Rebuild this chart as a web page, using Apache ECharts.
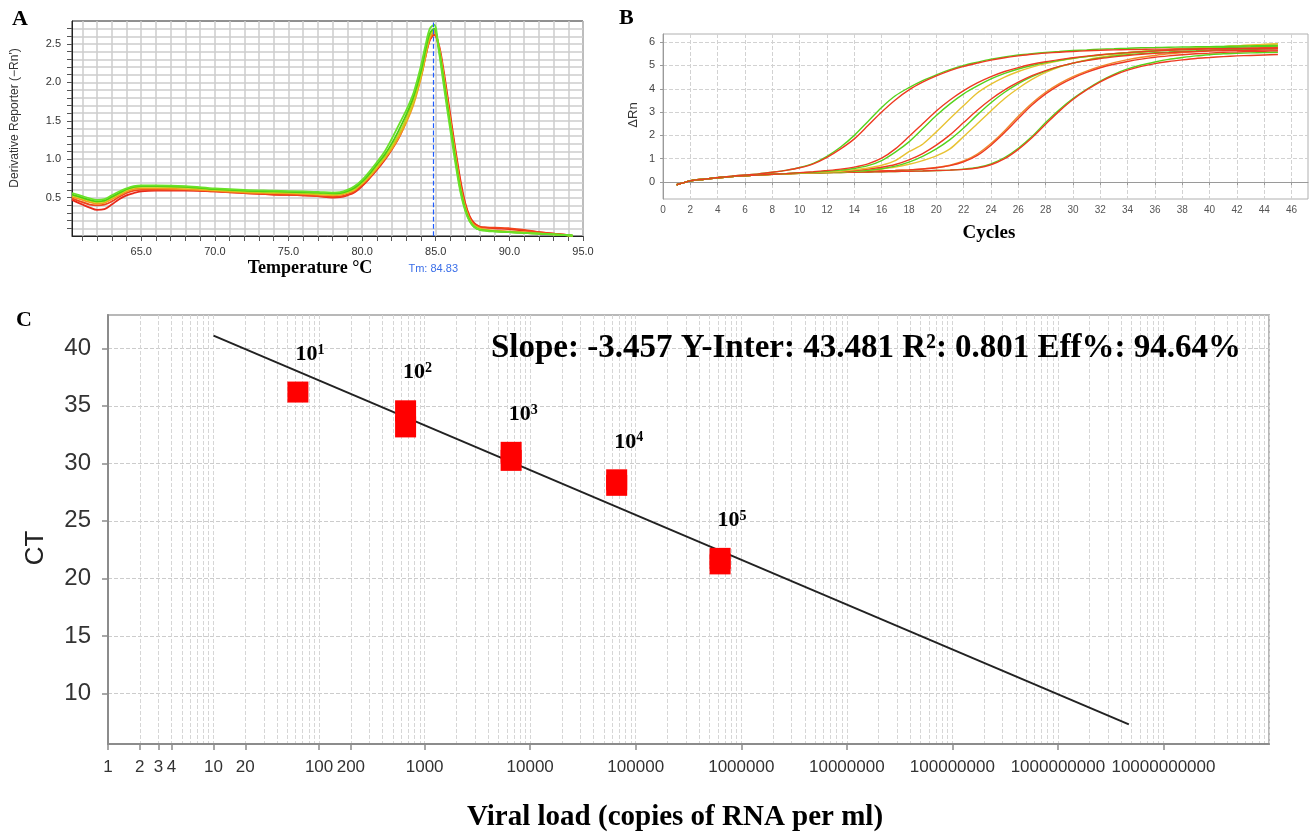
<!DOCTYPE html>
<html><head><meta charset="utf-8">
<script src="https://cdn.jsdelivr.net/npm/echarts@6.0.0/dist/echarts.min.js"></script>
<style>html,body{margin:0;padding:0;background:#fff}#c{width:1309px;height:836px}</style>
</head><body><div id="c"></div>
<script>
// ---------- Panel A: melt curves ----------
const meltTemp = [60.3,61,61.5,62,62.5,63,63.5,64,64.5,65,66,68,70,72,74,76,77,78,78.5,79,79.5,80,80.5,81,81.5,82,82.5,83,83.5,84,84.3,84.6,84.9,85.2,85.5,85.8,86.1,86.4,86.7,87,87.3,87.6,88,88.5,89,90,91,92,93,94,94.3];
const meltGreen1 = [0.56,0.52,0.49,0.47,0.48,0.53,0.58,0.62,0.65,0.66,0.66,0.65,0.62,0.6,0.59,0.58,0.575,0.565,0.57,0.6,0.65,0.73,0.84,0.96,1.09,1.26,1.45,1.64,1.87,2.22,2.48,2.7,2.75,2.42,2.02,1.62,1.24,0.87,0.55,0.33,0.19,0.12,0.08,0.065,0.06,0.05,0.04,0.03,0.02,0.01,0.01];
const meltGreen2 = [0.54,0.5,0.47,0.45,0.46,0.51,0.56,0.61,0.64,0.65,0.65,0.64,0.61,0.59,0.58,0.57,0.565,0.555,0.56,0.585,0.63,0.71,0.81,0.93,1.05,1.2,1.38,1.58,1.82,2.15,2.42,2.64,2.7,2.45,2.08,1.68,1.3,0.92,0.58,0.35,0.2,0.12,0.08,0.07,0.06,0.05,0.04,0.03,0.02,0.01,0.0];
const meltYellow = [0.53,0.49,0.46,0.44,0.45,0.5,0.55,0.6,0.63,0.64,0.64,0.63,0.6,0.58,0.57,0.56,0.55,0.54,0.55,0.57,0.61,0.69,0.79,0.9,1.02,1.16,1.33,1.52,1.76,2.1,2.38,2.62,2.68,2.47,2.12,1.72,1.33,0.95,0.6,0.36,0.21,0.13,0.09,0.075,0.065,0.05,0.04,0.03,0.02,0.01,0.0];
const meltOrange = [0.51,0.47,0.44,0.42,0.43,0.48,0.53,0.58,0.61,0.62,0.62,0.61,0.59,0.57,0.56,0.55,0.54,0.53,0.535,0.56,0.6,0.68,0.77,0.88,1.0,1.13,1.29,1.48,1.72,2.06,2.33,2.58,2.66,2.48,2.14,1.74,1.35,0.97,0.62,0.38,0.22,0.14,0.1,0.08,0.07,0.06,0.05,0.035,0.02,0.01,0.0];
const meltRed1 = [0.49,0.44,0.41,0.4,0.41,0.45,0.51,0.56,0.59,0.6,0.6,0.6,0.58,0.56,0.54,0.53,0.52,0.51,0.515,0.54,0.58,0.66,0.76,0.88,1.0,1.14,1.3,1.52,1.78,2.1,2.35,2.56,2.63,2.47,2.15,1.77,1.39,1.01,0.67,0.41,0.25,0.16,0.12,0.11,0.11,0.1,0.08,0.05,0.03,0.01,0.0];
const meltRed2 = [0.47,0.41,0.37,0.34,0.35,0.41,0.48,0.53,0.56,0.58,0.59,0.59,0.58,0.56,0.54,0.53,0.52,0.5,0.505,0.53,0.57,0.65,0.75,0.86,0.98,1.12,1.28,1.5,1.76,2.08,2.33,2.55,2.62,2.5,2.2,1.82,1.43,1.05,0.7,0.43,0.26,0.17,0.12,0.11,0.1,0.09,0.07,0.05,0.03,0.01,0.0];
const meltTm = 84.83;
const tempTicks = [61,62,63,64,65,66,67,68,69,70,71,72,73,74,75,76,77,78,79,80,81,82,83,84,85,86,87,88,89,90,91,92,93,94,95];
const tempLabels = [65,70,75,80,85,90,95];
const derivTicks = [0.1,0.2,0.3,0.4,0.5,0.6,0.7,0.8,0.9,1.0,1.1,1.2,1.3,1.4,1.5,1.6,1.7,1.8,1.9,2.0,2.1,2.2,2.3,2.4,2.5,2.6,2.7];
const derivLabels = [0.5,1.0,1.5,2.0,2.5];

// ---------- Panel B: amplification curves ----------
const cycles = [1,2,3,4,5,6,7,8,9,10,11,12,13,14,15,16,17,18,19,20,21,22,23,24,25,26,27,28,29,30,31,32,33,34,35,36,37,38,39,40,41,42,43,44,45];
const ampG1green = [-0.12,0.05,0.12,0.19,0.25,0.3,0.35,0.42,0.5,0.62,0.8,1.1,1.5,2.0,2.6,3.2,3.7,4.05,4.35,4.6,4.82,5.0,5.14,5.27,5.37,5.45,5.51,5.56,5.6,5.64,5.67,5.7,5.72,5.74,5.76,5.77,5.78,5.79,5.8,5.81,5.82,5.83,5.84,5.85,5.86];
const ampG1red = [-0.12,0.05,0.12,0.19,0.25,0.3,0.35,0.42,0.5,0.61,0.78,1.06,1.42,1.85,2.42,3.0,3.52,3.95,4.28,4.55,4.78,4.96,5.1,5.23,5.33,5.41,5.48,5.53,5.57,5.6,5.63,5.65,5.67,5.68,5.69,5.7,5.7,5.71,5.71,5.72,5.72,5.72,5.73,5.73,5.73];
const ampG2red = [-0.12,0.05,0.12,0.18,0.23,0.27,0.3,0.33,0.36,0.4,0.44,0.49,0.55,0.64,0.78,1.02,1.42,1.95,2.5,3.05,3.52,3.92,4.25,4.52,4.74,4.91,5.05,5.16,5.25,5.33,5.4,5.46,5.51,5.55,5.59,5.62,5.65,5.67,5.69,5.71,5.72,5.73,5.74,5.75,5.76];
const ampG2green = [-0.12,0.05,0.12,0.18,0.23,0.27,0.3,0.33,0.36,0.39,0.42,0.46,0.51,0.58,0.7,0.92,1.28,1.72,2.28,2.85,3.35,3.78,4.12,4.42,4.66,4.85,5.0,5.12,5.22,5.31,5.38,5.45,5.5,5.55,5.59,5.63,5.66,5.69,5.72,5.74,5.76,5.78,5.8,5.82,5.83];
const ampG2yellow = [-0.12,0.05,0.12,0.18,0.23,0.27,0.3,0.33,0.36,0.38,0.4,0.43,0.46,0.52,0.6,0.72,0.92,1.3,1.62,2.15,2.72,3.28,3.82,4.2,4.5,4.74,4.93,5.08,5.2,5.3,5.38,5.45,5.51,5.56,5.61,5.65,5.69,5.72,5.75,5.78,5.81,5.84,5.87,5.9,5.92];
const ampG3red = [-0.12,0.05,0.12,0.18,0.23,0.27,0.3,0.33,0.36,0.38,0.4,0.42,0.45,0.49,0.55,0.63,0.75,0.95,1.22,1.58,2.02,2.55,3.08,3.55,3.95,4.28,4.56,4.78,4.96,5.1,5.21,5.3,5.37,5.43,5.48,5.52,5.55,5.58,5.6,5.62,5.63,5.64,5.65,5.66,5.66];
const ampG3green = [-0.12,0.05,0.12,0.18,0.23,0.27,0.3,0.33,0.36,0.38,0.4,0.41,0.43,0.46,0.5,0.57,0.68,0.85,1.1,1.42,1.82,2.32,2.88,3.4,3.85,4.22,4.52,4.76,4.95,5.1,5.22,5.32,5.4,5.46,5.51,5.55,5.58,5.61,5.63,5.65,5.67,5.68,5.69,5.7,5.71];
const ampG3yellow = [-0.12,0.05,0.12,0.18,0.23,0.27,0.3,0.33,0.35,0.37,0.39,0.41,0.43,0.46,0.5,0.56,0.64,0.76,0.92,1.12,1.42,1.95,2.5,3.05,3.58,4.02,4.4,4.7,4.93,5.1,5.24,5.35,5.44,5.51,5.57,5.62,5.67,5.71,5.75,5.78,5.81,5.84,5.87,5.9,5.93];
const ampG4orange = [-0.12,0.05,0.12,0.18,0.23,0.27,0.3,0.33,0.35,0.37,0.39,0.41,0.42,0.44,0.45,0.47,0.49,0.52,0.56,0.62,0.72,0.9,1.2,1.65,2.2,2.82,3.38,3.85,4.22,4.52,4.76,4.96,5.12,5.25,5.35,5.43,5.5,5.55,5.6,5.64,5.68,5.71,5.74,5.77,5.8];
const ampG4red = [-0.12,0.05,0.12,0.18,0.23,0.27,0.3,0.33,0.35,0.37,0.39,0.41,0.42,0.44,0.45,0.47,0.49,0.52,0.56,0.61,0.7,0.86,1.14,1.58,2.12,2.72,3.3,3.78,4.16,4.46,4.7,4.9,5.05,5.17,5.27,5.35,5.41,5.46,5.5,5.53,5.56,5.58,5.6,5.61,5.62];
const ampG5green = [-0.12,0.05,0.12,0.18,0.23,0.27,0.3,0.33,0.35,0.37,0.39,0.4,0.41,0.42,0.43,0.44,0.45,0.46,0.47,0.49,0.51,0.55,0.62,0.78,1.05,1.45,1.95,2.55,3.1,3.58,3.98,4.33,4.62,4.85,5.02,5.15,5.26,5.34,5.41,5.46,5.5,5.52,5.54,5.55,5.56];
const ampG5red = [-0.12,0.05,0.12,0.18,0.23,0.27,0.3,0.33,0.35,0.37,0.39,0.4,0.41,0.42,0.43,0.44,0.45,0.46,0.47,0.49,0.51,0.54,0.6,0.74,1.0,1.4,1.9,2.48,3.04,3.54,3.95,4.3,4.58,4.8,4.96,5.08,5.17,5.24,5.3,5.34,5.38,5.41,5.43,5.45,5.47];
const cycleTicks = [0,2,4,6,8,10,12,14,16,18,20,22,24,26,28,30,32,34,36,38,40,42,44,46];
const rnTicks = [0,1,2,3,4,5,6];

// ---------- Panel C: standard curve ----------
const loadCopies = [63,660,660,6600,6600,66000,66000,630000,630000];
const ctValues = [36.2,34.57,33.17,30.96,30.26,28.57,28.09,21.74,21.26];
const dilutionCopies = [63,660,6600,66000,630000];
const dilutionTopCt = [36.2,34.57,30.96,28.57,21.74];
const dilutionExp = ['1','2','3','4','5'];
const fitCopies = [10,4.7e9];
const fitCt = [41.1,7.3];
const loadTicks = [1,2,3,4,10,20,100,200,1000,10000,100000,1000000,10000000,100000000,1000000000,10000000000];
const ctTicks = [10,15,20,25,30,35,40];
const minorLoadGrid = [];
for (let d = 0; d <= 10; d++) for (let k = 2; k <= 10; k++) minorLoadGrid.push(k * Math.pow(10, d));

const SERIF = '"Liberation Serif","Times New Roman",serif';
const SANS = '"Liberation Sans",Arial,sans-serif';

function pairs(xs, ys){ return xs.map((x,i)=>[x, ys[i]]); }

const meltSeries = [
  ['#e8281a', meltRed2], ['#f2441c', meltRed1], ['#f29a1e', meltOrange],
  ['#c9d41c', meltYellow], ['#4ccf10', meltGreen2], ['#6ae22a', meltGreen1]
].map(([c, ys], i) => ({
  type:'line', xAxisIndex:0, yAxisIndex:0, data:pairs(meltTemp, ys), showSymbol:false,
  smooth:0.35, lineStyle:{color:c, width:1.8}, silent:true,
  markLine: i === 5 ? {
    silent:true, symbol:'none', data:[{xAxis: meltTm}],
    itemStyle:{color:'#1f5cff'},
    lineStyle:{color:'#1f5cff', type:'dashed', width:1.2, opacity:1},
    label:{show:true, position:'start', distance:27, formatter:'Tm: ' + meltTm, color:'#3a6ee8', fontSize:11, fontFamily:SANS}
  } : undefined
}));

const ampSeries = [
  ['#ef8a2a', ampG4orange], ['#ee3a22', ampG4red], ['#55d31c', ampG5green], ['#ee3a22', ampG5red],
  ['#e8c232', ampG3yellow], ['#55d31c', ampG3green], ['#ee3a22', ampG3red],
  ['#e8c232', ampG2yellow], ['#55d31c', ampG2green], ['#ee3a22', ampG2red],
  ['#55d31c', ampG1green], ['#ee3a22', ampG1red]
].map(([c, ys]) => ({
  type:'line', xAxisIndex:1, yAxisIndex:1, data:pairs(cycles, ys), showSymbol:false,
  smooth:0.3, lineStyle:{color:c, width:1.4}, silent:true
}));

function txt(o){ return Object.assign({type:'text', z:100, zlevel:1}, o); }

const option = {
  animation:false,
  backgroundColor:'#fff',
  grid:[
    {left:72, top:21, width:511, height:215, show:true, borderColor:'#222', borderWidth:1},
    {left:663, top:34, width:645, height:165, show:true, borderColor:'#b0b0b0', borderWidth:1},
    {left:108, top:315, width:1161, height:429, show:true, borderColor:'#b8b8b8', borderWidth:2}
  ],
  xAxis:[
    {gridIndex:0, type:'value', min:60.3, max:95,
     axisLine:{lineStyle:{color:'#222'}},
     axisTick:{customValues:tempTicks, length:5, lineStyle:{color:'#555'}},
     axisLabel:{customValues:tempLabels, formatter:v=>v.toFixed(1), fontSize:11, color:'#333', margin:10, fontFamily:SANS},
     splitLine:{show:true, lineStyle:{color:'#cdcdcd', width:1.5}}},
    {gridIndex:1, type:'value', min:0, max:47.2,
     axisLine:{lineStyle:{color:'#9a9a9a'}},
     axisTick:{customValues:cycleTicks, length:3, lineStyle:{color:'#9a9a9a'}},
     axisLabel:{customValues:cycleTicks, fontSize:10, color:'#555', margin:6, fontFamily:SANS},
     splitLine:{show:true, lineStyle:{color:'#d2d2d2', type:'dashed'}}},
    {gridIndex:2, type:'log', logBase:10, min:1, max:1e11, position:'bottom',
     axisLine:{show:false}, axisTick:{show:false, customValues:minorLoadGrid}, axisLabel:{show:false},
     splitLine:{show:true, lineStyle:{color:'#d6d6d6', type:'dashed'}}},
    {gridIndex:2, type:'log', logBase:10, min:1, max:1e11, position:'bottom',
     axisLine:{lineStyle:{color:'#8c8c8c', width:2}},
     axisTick:{customValues:loadTicks, length:6, lineStyle:{color:'#8c8c8c', width:1.5}},
     axisLabel:{customValues:loadTicks, formatter:v=>String(Math.round(v)), fontSize:17, color:'#333', margin:15, fontFamily:SANS},
     splitLine:{show:false}}
  ],
  yAxis:[
    {gridIndex:0, type:'value', min:0, max:2.8,
     axisLine:{lineStyle:{color:'#222'}},
     axisTick:{customValues:derivTicks, length:5, lineStyle:{color:'#555'}},
     axisLabel:{customValues:derivLabels, formatter:v=>v.toFixed(1), fontSize:11, color:'#333', margin:11, fontFamily:SANS},
     splitLine:{show:true, lineStyle:{color:'#cdcdcd', width:1.5}}},
    {gridIndex:1, type:'value', min:-0.73, max:6.35,
     axisLine:{lineStyle:{color:'#9a9a9a'}},
     axisTick:{customValues:rnTicks, length:3, lineStyle:{color:'#9a9a9a'}},
     axisLabel:{customValues:rnTicks, fontSize:11, color:'#444', margin:8, fontFamily:SANS},
     splitLine:{show:true, lineStyle:{color:'#d2d2d2', type:'dashed'}}},
    {gridIndex:2, type:'value', min:5.6, max:42.9,
     axisLine:{lineStyle:{color:'#8c8c8c', width:2}},
     axisTick:{customValues:ctTicks, length:6, lineStyle:{color:'#8c8c8c', width:1.5}},
     axisLabel:{customValues:ctTicks, fontSize:24, color:'#333', margin:17, fontFamily:SANS},
     splitLine:{show:true, lineStyle:{color:'#cccccc', type:'dashed'}}}
  ],
  series:[
    ...meltSeries,
    ...ampSeries,
    {type:'line', xAxisIndex:3, yAxisIndex:2, data:pairs(fitCopies, fitCt), showSymbol:false,
     lineStyle:{color:'#222', width:2}, silent:true},
    {type:'scatter', xAxisIndex:3, yAxisIndex:2, data:pairs(loadCopies, ctValues), symbol:'rect', symbolSize:21,
     itemStyle:{color:'#ff0000', opacity:1}, silent:true, z:5}
  ],
  graphic:[
    txt({left:12, top:8, style:{text:'A', font:'bold 22px ' + SERIF, fill:'#000'}}),
    txt({left:619, top:7, style:{text:'B', font:'bold 22px ' + SERIF, fill:'#000'}}),
    txt({left:16, top:309, style:{text:'C', font:'bold 22px ' + SERIF, fill:'#000'}}),
    txt({x:15, y:118, rotation:Math.PI/2, style:{text:"Derivative Reporter (\u2212Rn')", font:'12px ' + SANS, fill:'#333', align:'center', verticalAlign:'middle'}}),
    txt({x:310, y:268, style:{text:'Temperature \u00B0C', font:'bold 18px ' + SERIF, fill:'#000', align:'center', verticalAlign:'middle'}}),
    txt({x:633, y:115, rotation:Math.PI/2, style:{text:'\u0394Rn', font:'13px ' + SANS, fill:'#333', align:'center', verticalAlign:'middle'}}),
    txt({x:989, y:233, style:{text:'Cycles', font:'bold 19px ' + SERIF, fill:'#000', align:'center', verticalAlign:'middle'}}),
    txt({x:36, y:548, rotation:Math.PI/2, style:{text:'CT', font:'26px ' + SANS, fill:'#222', align:'center', verticalAlign:'middle'}}),
    txt({x:675, y:818, style:{text:'Viral load (copies of RNA per ml)', font:'bold 29px ' + SERIF, fill:'#000', align:'center', verticalAlign:'middle'}}),
    txt({x:866, y:348, style:{text:'Slope: -3.457 Y-Inter: 43.481 R\u00B2: 0.801 Eff%: 94.64%', font:'bold 33px ' + SERIF, fill:'#000', align:'center', verticalAlign:'middle'}})
  ]
};
const chart = echarts.init(document.getElementById('c'), null, {renderer:'canvas'});
chart.setOption(option);

// dilution labels (10^n) placed above each dilution's top point, via the axis scales
const dilutionLabelGraphics = dilutionCopies.map((x, i) => {
  const p = chart.convertToPixel({xAxisIndex:3, yAxisIndex:2}, [x, dilutionTopCt[i]]);
  return txt({x:p[0] + 12, y:p[1] - 38, style:{
    text:'{b|10}{s|' + dilutionExp[i] + '}', align:'center', verticalAlign:'middle',
    rich:{b:{font:'bold 22px ' + SERIF, fill:'#000'},
          s:{font:'bold 14px ' + SERIF, fill:'#000', verticalAlign:'top', lineHeight:14}}}});
});
chart.setOption({graphic: option.graphic.concat(dilutionLabelGraphics)});
</script>
</body></html>
